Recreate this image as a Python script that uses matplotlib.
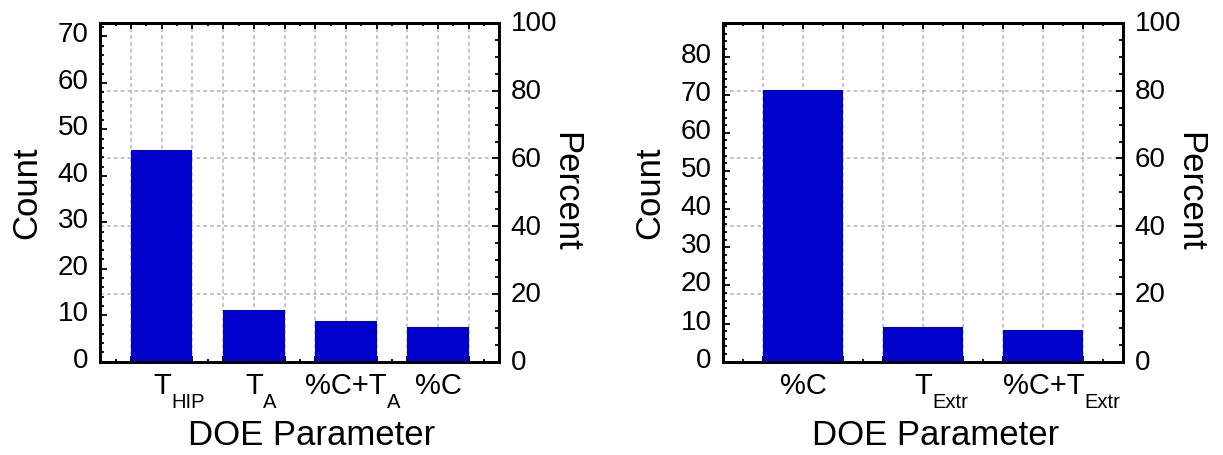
import numpy as np
import matplotlib
matplotlib.use("Agg")
import matplotlib.pyplot as plt
from matplotlib.ticker import MultipleLocator, NullFormatter
from matplotlib.transforms import ScaledTranslation

plt.rcParams['font.family'] = ['Liberation Sans', 'DejaVu Sans']

# left chart: (main text, subscript) per category
labels_a = [('T', 'HIP'), ('T', 'A'), ('%C+T', 'A'), ('%C', '')]
counts_a = [45.6, 11.1, 8.7, 7.5]

# right chart
labels_b = [('%C', ''), ('T', 'Extr'), ('%C+T', 'Extr')]
counts_b = [71.3, 9.2, 8.3]

bar_color = '#0000cc'
grid_color = '#b4b4b4'
dash = (0, (2.5, 2))


def shift_labels(fig, labels, dy_px):
    off = ScaledTranslation(0, dy_px / 100, fig.dpi_scale_trans)
    for t in labels:
        t.set_transform(t.get_transform() + off)


def pareto(fig, rect, labels, counts):
    ax = fig.add_axes(rect)
    n = len(counts)
    total = sum(counts)
    x = np.arange(n)
    ax.bar(x, counts, width=2/3, color=bar_color, zorder=3)
    ax.set_xlim(-2/3, n - 1 + 2/3)
    ax.set_ylim(0, total)

    # x ticks every third of a category (grid), minor every sixth
    ax.xaxis.set_major_locator(MultipleLocator(1/3))
    ax.xaxis.set_minor_locator(MultipleLocator(1/6))
    ax.xaxis.set_major_formatter(NullFormatter())
    ax.tick_params(axis='x', which='both', direction='in', top=True, bottom=True,
                   width=1.3)
    ax.tick_params(axis='x', which='major', length=4)
    ax.tick_params(axis='x', which='minor', length=2.5)
    ax.grid(axis='x', which='major', color=grid_color, linestyle=dash,
            linewidth=1.1, zorder=1)

    # category labels with low subscripts
    for k, (main, sub) in enumerate(labels):
        t = ax.annotate(main, xy=(k, 0), xycoords=ax.get_xaxis_transform(),
                        xytext=(0, -7.2), textcoords='offset points',
                        ha='center', va='top', fontsize=21)
        if sub:
            ax.annotate(sub, xy=(1, 0), xycoords=(t, ax.transAxes),
                        xytext=(0.3, -22.5), textcoords='offset points',
                        ha='left', va='top', fontsize=14.5)

    ax.yaxis.set_major_locator(MultipleLocator(10))
    ax.yaxis.set_minor_locator(MultipleLocator(2))
    ax.tick_params(axis='y', which='both', direction='in', left=True, right=False,
                   width=1.3, labelsize=20, pad=8.5)
    ax.tick_params(axis='y', which='major', length=5)
    ax.tick_params(axis='y', which='minor', length=3)
    ax.set_ylabel('Count', fontsize=25)
    ax.yaxis.set_label_coords(-0.143, 0.5)
    ax.set_xlabel('DOE Parameter', fontsize=25)
    ax.xaxis.set_label_coords(0.53, -0.169)

    # horizontal grid at the percent ticks
    for p in [20, 40, 60, 80]:
        ax.axhline(total * p / 100, color=grid_color, linestyle=dash,
                   linewidth=1.1, zorder=1)

    for s in ax.spines.values():
        s.set_linewidth(2)

    ax2 = ax.twinx()
    ax2.set_ylim(0, 100)
    ax2.yaxis.set_major_locator(MultipleLocator(20))
    ax2.yaxis.set_minor_locator(MultipleLocator(5))
    ax2.tick_params(axis='y', which='both', direction='in', width=1.3,
                    labelsize=20, pad=8)
    ax2.tick_params(axis='y', which='major', length=5)
    ax2.tick_params(axis='y', which='minor', length=3)
    ax2.set_ylabel('Percent', fontsize=25, rotation=-90, va='bottom')
    ax2.yaxis.set_label_coords(1.125, 0.5)
    for s in ax2.spines.values():
        s.set_linewidth(2)

    shift_labels(fig, ax.get_yticklabels(), 4)
    shift_labels(fig, ax2.get_yticklabels(), 1.5)
    return ax, ax2


fig = plt.figure(figsize=(12.23, 4.55), dpi=100)
pareto(fig, [0.0821, 0.205, 0.3262, 0.7445], labels_a, counts_a)
pareto(fig, [0.5914, 0.205, 0.3271, 0.7445], labels_b, counts_b)
fig.savefig('out.png', dpi=100)
